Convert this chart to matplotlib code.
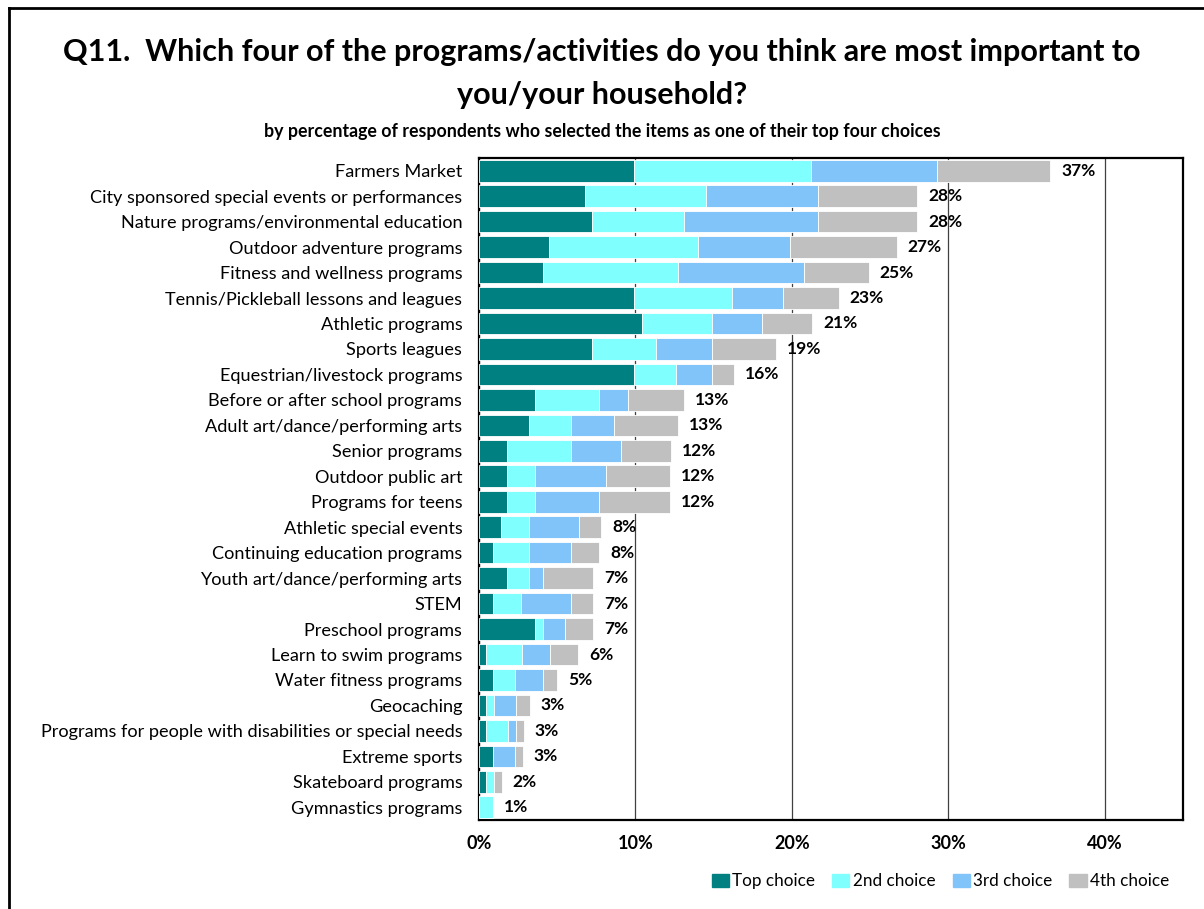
import numpy as np
import matplotlib.pyplot as plt
from matplotlib.patches import Rectangle
from matplotlib.lines import Line2D

plt.rcParams['font.family'] = ['Lato', 'DejaVu Sans']

categories = [
    "Farmers Market",
    "City sponsored special events or performances",
    "Nature programs/environmental education",
    "Outdoor adventure programs",
    "Fitness and wellness programs",
    "Tennis/Pickleball lessons and leagues",
    "Athletic programs",
    "Sports leagues",
    "Equestrian/livestock programs",
    "Before or after school programs",
    "Adult art/dance/performing arts",
    "Senior programs",
    "Outdoor public art",
    "Programs for teens",
    "Athletic special events",
    "Continuing education programs",
    "Youth art/dance/performing arts",
    "STEM",
    "Preschool programs",
    "Learn to swim programs",
    "Water fitness programs",
    "Geocaching",
    "Programs for people with disabilities or special needs",
    "Extreme sports",
    "Skateboard programs",
    "Gymnastics programs",
]

top_choice = [9.9, 6.8, 7.2, 4.5, 4.1, 9.9, 10.4, 7.2, 9.9, 3.6, 3.2, 1.8, 1.8, 1.8,
              1.4, 0.9, 1.8, 0.9, 3.6, 0.45, 0.9, 0.45, 0.45, 0.9, 0.45, 0.0]
second_choice = [11.3, 7.7, 5.9, 9.5, 8.6, 6.3, 4.5, 4.1, 2.7, 4.1, 2.7, 4.1, 1.8, 1.8,
                 1.8, 2.3, 1.4, 1.8, 0.5, 2.3, 1.4, 0.5, 1.4, 0.0, 0.5, 0.9]
third_choice = [8.1, 7.2, 8.6, 5.9, 8.1, 3.2, 3.2, 3.6, 2.3, 1.8, 2.7, 3.2, 4.5, 4.1,
                3.2, 2.7, 0.9, 3.2, 1.4, 1.8, 1.8, 1.4, 0.5, 1.4, 0.0, 0.0]
fourth_choice = [7.2, 6.3, 6.3, 6.8, 4.1, 3.6, 3.2, 4.1, 1.4, 3.6, 4.1, 3.2, 4.1, 4.5,
                 1.4, 1.8, 3.2, 1.4, 1.8, 1.8, 0.9, 0.9, 0.5, 0.5, 0.5, 0.0]
total_labels = ["37%", "28%", "28%", "27%", "25%", "23%", "21%", "19%", "16%", "13%",
                "13%", "12%", "12%", "12%", "8%", "8%", "7%", "7%", "7%", "6%",
                "5%", "3%", "3%", "3%", "2%", "1%"]

series_names = ["Top choice", "2nd choice", "3rd choice", "4th choice"]
colors = ["#008080", "#80FFFF", "#80C4FA", "#C0C0C0"]

fig = plt.figure(figsize=(12.04, 9.09), dpi=100)
W, H = 1204, 909
ax = fig.add_axes([479 / W, 1 - 820 / H, (1183 - 479) / W, (820 - 158) / H])

y = np.arange(len(categories))
left = np.zeros(len(categories))
for vals, color, name in zip([top_choice, second_choice, third_choice, fourth_choice],
                             colors, series_names):
    vals = np.array(vals)
    ax.barh(y, vals, left=left, height=0.85, color=color, edgecolor='white',
            linewidth=0.6, label=name, zorder=3)
    left += vals

for yi, tot, lab in zip(y, left, total_labels):
    ax.text(tot + 0.7, yi, lab, va='center', ha='left', fontsize=12.5,
            fontweight='bold', zorder=4)

ax.set_ylim(len(categories) - 0.5, -0.5)
ax.set_xlim(0, 45)
ax.set_xticks([0, 10, 20, 30, 40])
ax.set_xticklabels(["0%", "10%", "20%", "30%", "40%"], fontsize=13, fontweight='bold')
ax.set_yticks(y)
ax.set_yticklabels(categories, fontsize=13.1)
ax.tick_params(axis='both', length=0)
ax.tick_params(axis='x', pad=11)
ax.tick_params(axis='y', pad=12)
ax.grid(axis='x', color='#404040', linewidth=0.9, zorder=0)
for s in ax.spines.values():
    s.set_linewidth(1.6)
    s.set_color('black')

fig.text(0.5, 1 - 52 / H, "Q11.  Which four of the programs/activities do you think are most important to",
         ha='center', va='center', fontsize=22, fontweight='bold')
fig.text(0.5, 1 - 95 / H, "you/your household?", ha='center', va='center',
         fontsize=22, fontweight='bold')
fig.text(0.5, 1 - 131 / H,
         "by percentage of respondents who selected the items as one of their top four choices",
         ha='center', va='center', fontsize=12.8, fontweight='bold')

handles = [Rectangle((0, 0), 1, 1, color=c) for c in colors]
fig.legend(handles, series_names, loc='center right', bbox_to_anchor=(1176 / W, 1 - 881 / H),
           ncol=4, frameon=False, fontsize=12.3, handlelength=1.0, handleheight=0.8,
           handletextpad=0.2, columnspacing=1.0, borderaxespad=0)

# outer border (left and top)
fig.add_artist(Line2D([9 / W, 9 / W], [0, 1 - 8 / H], color='black', linewidth=2,
                      transform=fig.transFigure))
fig.add_artist(Line2D([9 / W, 1], [1 - 8 / H, 1 - 8 / H], color='black', linewidth=2,
                      transform=fig.transFigure))

fig.savefig("out.png", dpi=100)
